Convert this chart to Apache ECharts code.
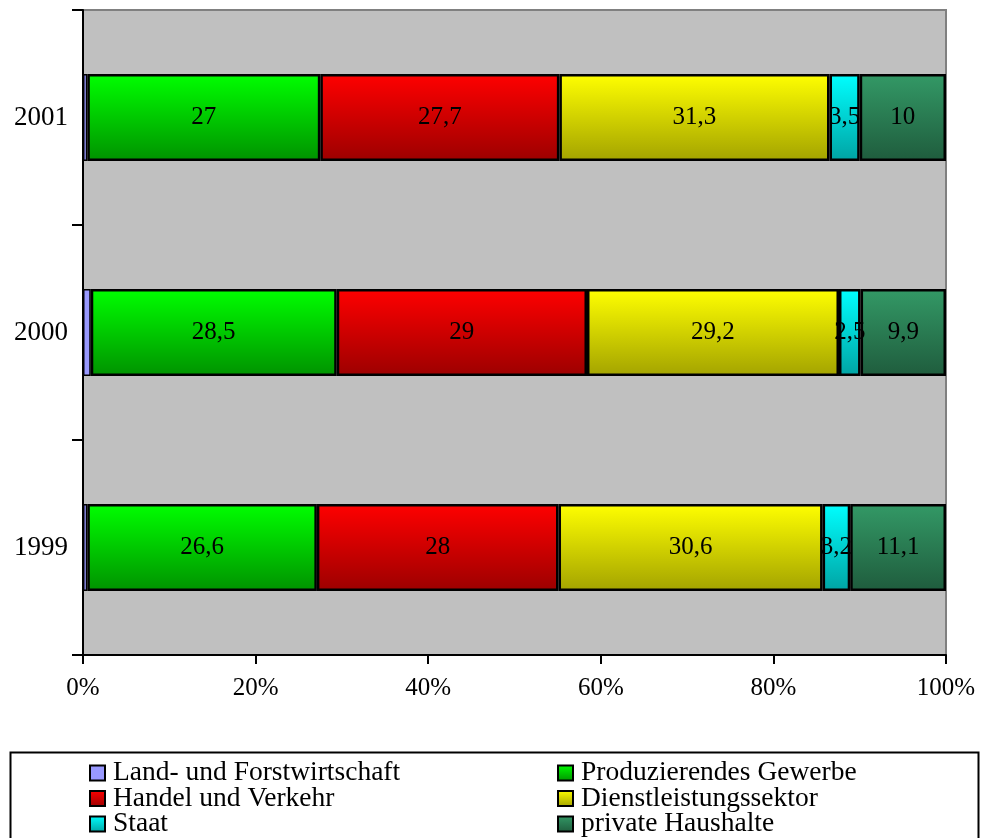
<!DOCTYPE html>
<html>
<head>
<meta charset="utf-8">
<script src="https://cdn.jsdelivr.net/npm/echarts@6/dist/echarts.min.js"></script>
<style>
  html, body { margin: 0; padding: 0; background: #ffffff; }
  #chart { width: 987px; height: 838px; }
</style>
</head>
<body>
<div id="chart"></div>
<script>
// Erwerbstätige nach Wirtschaftsbereichen, Anteile in %
const years = ['1999', '2000', '2001'];
const sectorNames = [
  'Land- und Forstwirtschaft',
  'Produzierendes Gewerbe',
  'Handel und Verkehr',
  'Dienstleistungssektor',
  'Staat',
  'private Haushalte'
];
const landForst      = [0.5, 0.9, 0.5];
const produzierend   = [26.6, 28.5, 27];
const handelVerkehr  = [28, 29, 27.7];
const dienstleistung = [30.6, 29.2, 31.3];
const staat          = [3.2, 2.5, 3.5];
const haushalte      = [11.1, 9.9, 10];
const xTicks = [0, 20, 40, 60, 80, 100];

const seriesValues = [landForst, produzierend, handelVerkehr, dienstleistung, staat, haushalte];
// top / bottom colour of each bar gradient
const palette = [
  ['#9999FF', '#9999FF'],
  ['#00FF00', '#009200'],
  ['#FF0000', '#9C0000'],
  ['#FFFF00', '#A3A300'],
  ['#00FFFF', '#00A3A3'],
  ['#339966', '#1F5C3D']
];
const FONT = '"Liberation Serif", "Times New Roman", serif';
const FS = 25;

function grad(c) {
  return new echarts.graphic.LinearGradient(0, 0, 0, 1, [
    { offset: 0, color: c[0] },
    { offset: 1, color: c[1] }
  ]);
}

const chart = echarts.init(document.getElementById('chart'), null, { renderer: 'canvas' });

const series = seriesValues.map((vals, i) => ({
  name: sectorNames[i],
  type: 'bar',
  stack: 'total',
  barWidth: '40.5%',
  data: vals,
  itemStyle: { color: grad(palette[i]), borderColor: '#000000', borderWidth: i === 0 ? 1.5 : 2.5 },
  emphasis: { disabled: true },
  label: {
    show: i > 0,
    position: 'inside',
    color: '#000000',
    fontFamily: FONT,
    fontSize: FS,
    formatter: p => String(p.value).replace('.', ',')
  }
}));

const legendCommon = {
  orient: 'vertical',
  top: 759,
  height: 120,
  padding: 0,
  itemWidth: 15,
  itemHeight: 15,
  itemGap: -2.5,
  icon: 'rect',
  selectedMode: false,
  textStyle: { fontFamily: FONT, fontSize: 27.5, color: '#000000', padding: [0, 0, 0, 3], lineHeight: 25 },
  itemStyle: { borderColor: '#000000', borderWidth: 2 }
};

chart.setOption({
  animation: false,
  backgroundColor: '#ffffff',
  grid: {
    left: 83, top: 10, width: 863, height: 645,
    show: true,
    backgroundColor: '#C0C0C0',
    borderColor: '#808080',
    borderWidth: 2
  },
  legend: [
    Object.assign({}, legendCommon, { left: 89, data: [sectorNames[0], sectorNames[2], sectorNames[4]] }),
    Object.assign({}, legendCommon, { left: 557, data: [sectorNames[1], sectorNames[3], sectorNames[5]] })
  ],
  graphic: [{
    type: 'rect',
    shape: { x: 10.5, y: 752.5, width: 968, height: 100 },
    style: { fill: 'none', stroke: '#000000', lineWidth: 2 },
    z: 0
  }],
  xAxis: {
    type: 'value',
    min: xTicks[0],
    max: xTicks[xTicks.length - 1],
    interval: xTicks[1] - xTicks[0],
    axisLine: { show: true, lineStyle: { color: '#000000', width: 2 } },
    axisTick: { show: true, inside: false, length: 9, lineStyle: { color: '#000000', width: 2 } },
    splitLine: { show: false },
    axisLabel: {
      formatter: '{value}%',
      fontFamily: FONT, fontSize: FS, color: '#000000', margin: 21
    }
  },
  yAxis: {
    type: 'category',
    data: years,
    boundaryGap: true,
    axisLine: { show: true, lineStyle: { color: '#000000', width: 2 } },
    axisTick: { show: true, inside: false, length: 11, lineStyle: { color: '#000000', width: 2 } },
    splitLine: { show: false },
    axisLabel: { fontFamily: FONT, fontSize: 27, color: '#000000', margin: 15 }
  },
  series: series
});
</script>
</body>
</html>
